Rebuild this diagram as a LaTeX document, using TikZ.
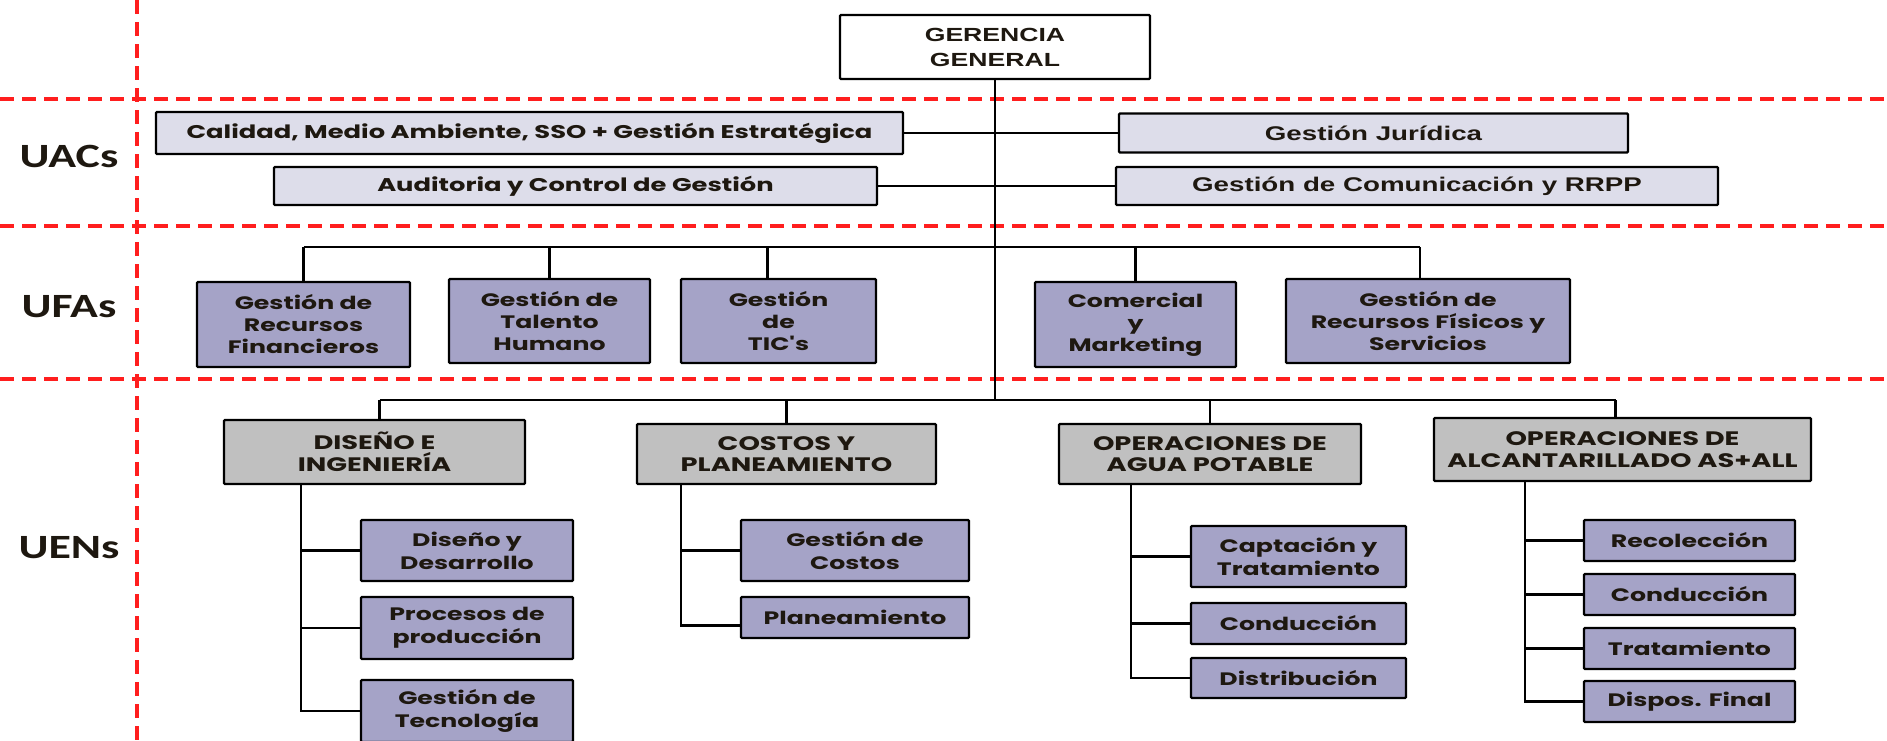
\documentclass[tikz,border=0pt]{standalone}
\usepackage{fontspec}
\newfontfamily\gothic[FakeStretch=1.4]{Poppins}
\newfontfamily\arialx[FakeStretch=1.4]{Liberation Sans}
\newfontfamily\calib[FakeStretch=1.35]{Carlito}
\definecolor{uacfill}{HTML}{DDDDEA}
\definecolor{ufafill}{HTML}{A5A3C7}
\definecolor{uenfill}{HTML}{C0C0C0}
\definecolor{txt}{HTML}{1E1810}
\definecolor{dashred}{HTML}{FF1E1E}
\begin{document}
\begin{tikzpicture}[x=1pt,y=-1pt,
  box/.style={draw=black, line width=2.4pt, rounded corners=1pt, inner sep=0pt, text=txt, align=center},
  topbox/.style={box, fill=white, font=\arialx\bfseries\fontsize{19}{25}\selectfont},
  uacg/.style={box, fill=uacfill, font=\gothic\bfseries\fontsize{18.4}{20}\selectfont},
  uaca/.style={box, fill=uacfill, font=\arialx\bfseries\fontsize{19.8}{20}\selectfont},
  ufabox/.style={box, fill=ufafill, font=\gothic\bfseries\fontsize{18}{22}\selectfont},
  uenbox/.style={box, fill=uenfill, font=\gothic\bfseries\fontsize{19.5}{21.5}\selectfont},
  subbox/.style={box, fill=ufafill, font=\gothic\bfseries\fontsize{18}{23}\selectfont},
  lvl/.style={font=\calib\bfseries\fontsize{34}{36}\selectfont, text=txt, inner sep=0pt},
  reddash/.style={draw=dashred, line width=3.5pt, dash pattern=on 14pt off 8pt},
  conn/.style={draw=black, line width=2.4pt}
]
\useasboundingbox (0,0) rectangle (1887,740);
\clip (0,0) rectangle (1887,740);

% dashed level separators
\draw[reddash] (0,99) -- (1887,99);
\draw[reddash] (0,226) -- (1887,226);
\draw[reddash] (0,379) -- (1887,379);
\draw[reddash] (137,0) -- (137,740);

% level labels
\node[lvl] (luac) at (69,156) {UACs};
\node[lvl] (lufa) at (69,307) {UFAs};
\node[lvl] (luen) at (69,548) {UENs};

% top
\node[topbox, minimum width=310pt, minimum height=64pt] (gg) at (995,47) {GERENCIA\\GENERAL};

% UACs
\node[uacg, minimum width=747pt, minimum height=42pt] (cal) at (529.5,133) {Calidad, Medio Ambiente, SSO + Gestión Estratégica};
\node[uaca, minimum width=509pt, minimum height=39pt] (jur) at (1373.5,133) {Gestión Jurídica};
\node[uacg, minimum width=603pt, minimum height=38pt] (aud) at (575.5,186) {Auditoria y Control de Gestión};
\node[uaca, minimum width=602pt, minimum height=38pt] (com) at (1417,186) {Gestión de Comunicación y RRPP};

% UFAs
\node[ufabox, minimum width=213pt, minimum height=85pt] (fin) at (303.5,324.5) {Gestión de\\Recursos\\Financieros};
\node[ufabox, minimum width=201pt, minimum height=84pt] (tal) at (549.5,321) {Gestión de\\Talento\\Humano};
\node[ufabox, minimum width=195pt, minimum height=84pt] (tic) at (778.5,321) {Gestión\\de\\TIC's};
\node[ufabox, minimum width=201pt, minimum height=85pt] (mkt) at (1135.5,324.5) {Comercial\\y\\Marketing};
\node[ufabox, minimum width=284pt, minimum height=84pt] (rfs) at (1428,321) {Gestión de\\Recursos Físicos y\\Servicios};

% UEN heads
\node[uenbox, minimum width=301pt, minimum height=64pt] (dis) at (374.5,452) {DISEÑO E\\INGENIERÍA};
\node[uenbox, minimum width=299pt, minimum height=60pt] (cos) at (786.5,454) {COSTOS Y\\PLANEAMIENTO};
\node[uenbox, minimum width=302pt, minimum height=60pt] (agu) at (1210,454) {OPERACIONES DE\\AGUA POTABLE};
\node[uenbox, minimum width=377pt, minimum height=63pt] (alc) at (1622.5,449.5) {OPERACIONES DE\\ALCANTARILLADO AS+ALL};

% sub units
\node[subbox, minimum width=212pt, minimum height=61pt] (dd) at (467,550.5) {Diseño y\\Desarrollo};
\node[subbox, minimum width=212pt, minimum height=62pt] (pp) at (467,628) {Procesos de\\producción};
\node[subbox, minimum width=212pt, minimum height=62pt] (tec) at (467,711) {Gestión de\\Tecnología};
\node[subbox, minimum width=228pt, minimum height=61pt] (gc) at (855,550.5) {Gestión de\\Costos};
\node[subbox, minimum width=228pt, minimum height=41pt] (pla) at (855,617.5) {Planeamiento};
\node[subbox, minimum width=215pt, minimum height=61pt] (cap) at (1298.5,556.5) {Captación y\\Tratamiento};
\node[subbox, minimum width=215pt, minimum height=41pt] (con1) at (1298.5,623.5) {Conducción};
\node[subbox, minimum width=215pt, minimum height=40pt] (dsb) at (1298.5,678) {Distribución};
\node[subbox, minimum width=211pt, minimum height=41pt] (rec) at (1689.5,540.5) {Recolección};
\node[subbox, minimum width=211pt, minimum height=41pt] (con2) at (1689.5,594.5) {Conducción};
\node[subbox, minimum width=211pt, minimum height=41pt] (tra) at (1689.5,648.5) {Tratamiento};
\node[subbox, minimum width=211pt, minimum height=41pt] (dfi) at (1689.5,701.5) {Dispos. Final};

% bus and drop coordinates
\coordinate (ufabus) at (995,247);
\coordinate (uenbus) at (995,400);
\coordinate (ticd) at ([xshift=-11pt]tic.north);
\coordinate (rfsd) at ([xshift=-8pt]rfs.north);
\coordinate (disd) at ([xshift=5pt]dis.north);
\coordinate (alcd) at ([xshift=-7pt]alc.north);
\coordinate (dcol) at (301,484);
\coordinate (ccol) at (681,484);
\coordinate (acol) at (1131,484);
\coordinate (lcol) at (1525,481);

% trunk
\draw[conn] (gg.south) -- (uenbus);
% UAC links
\draw[conn] (cal.east) -- (jur.west);
\draw[conn] (aud.east) -- (com.west);
% UFA bus
\draw[conn] (fin.north |- ufabus) -- (rfsd |- ufabus);
\foreach \n in {fin,tal,mkt} \draw[conn] (\n.north |- ufabus) -- (\n.north);
\draw[conn] (ticd |- ufabus) -- (ticd);
\draw[conn] (rfsd |- ufabus) -- (rfsd);
% UEN bus
\draw[conn] (disd |- uenbus) -- (alcd |- uenbus);
\draw[conn] (disd |- uenbus) -- (disd);
\draw[conn] (alcd |- uenbus) -- (alcd);
\foreach \n in {cos,agu} \draw[conn] (\n.north |- uenbus) -- (\n.north);
% columns
\draw[conn] (dcol) |- (tec.west);
\draw[conn] (dcol |- dd.west) -- (dd.west);
\draw[conn] (dcol |- pp.west) -- (pp.west);
\draw[conn] (ccol) |- ([yshift=-8pt]pla.west);
\draw[conn] (ccol |- gc.west) -- (gc.west);
\draw[conn] (acol) |- (dsb.west);
\draw[conn] (acol |- cap.west) -- (cap.west);
\draw[conn] (acol |- con1.west) -- (con1.west);
\draw[conn] (lcol) |- (dfi.west);
\draw[conn] (lcol |- rec.west) -- (rec.west);
\draw[conn] (lcol |- con2.west) -- (con2.west);
\draw[conn] (lcol |- tra.west) -- (tra.west);
\end{tikzpicture}
\end{document}
